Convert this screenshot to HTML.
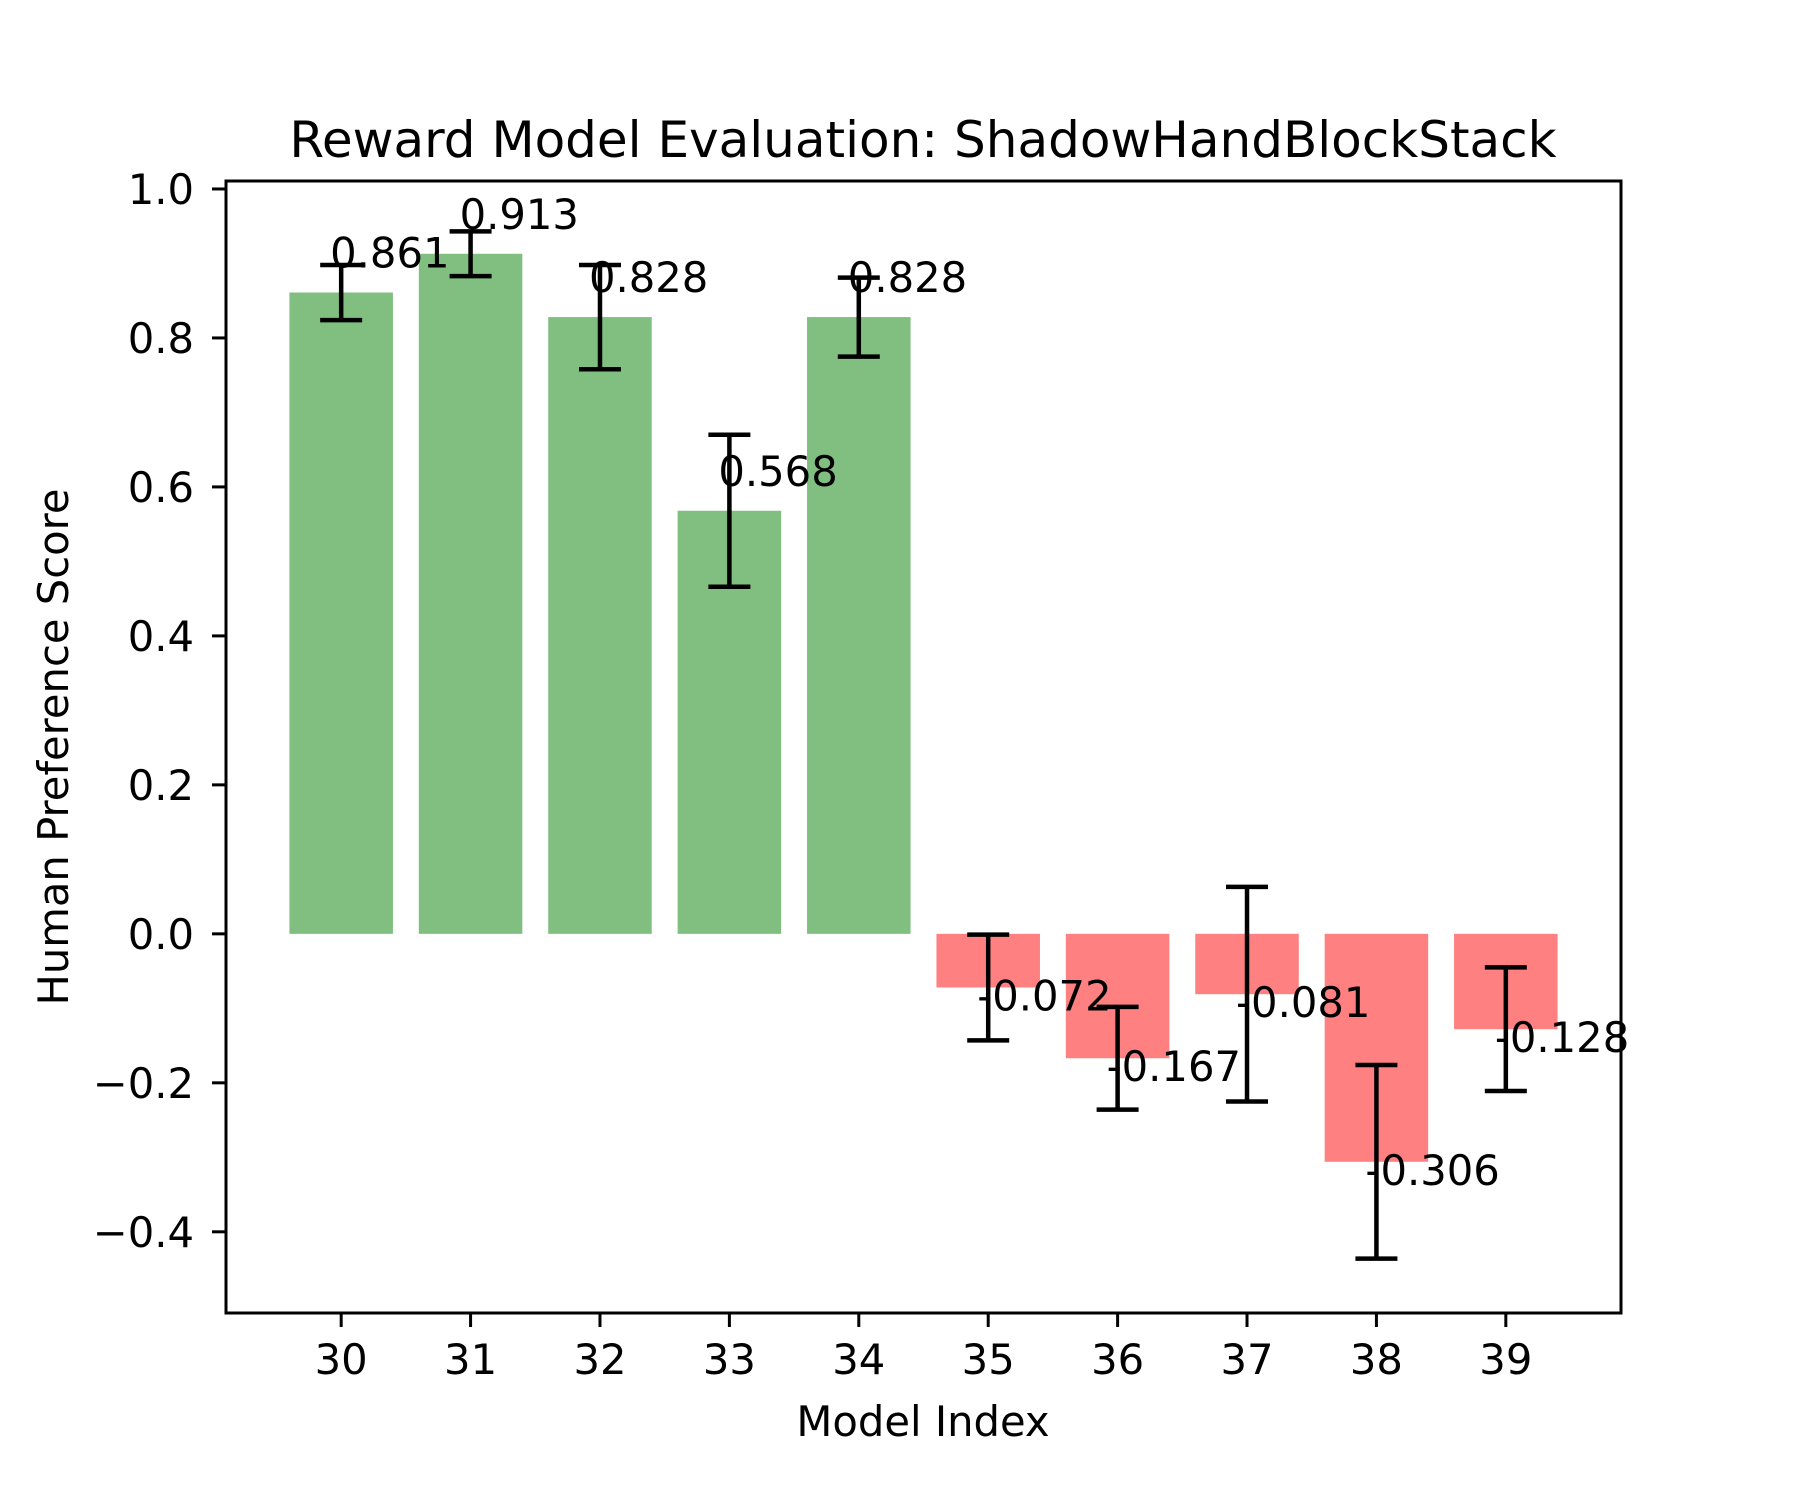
<!DOCTYPE html>
<html><head><meta charset="utf-8"><style>
body{margin:0;background:#fff}
svg{display:block}
text{font-family:"DejaVu Sans","Liberation Sans",sans-serif;fill:#000}
</style></head><body>
<svg id="chart" width="1800" height="1500" viewBox="0 0 1800 1500" xmlns="http://www.w3.org/2000/svg">
<rect width="1800" height="1500" fill="#fff"/>
<text x="923" y="157" font-size="50" text-anchor="middle">Reward Model Evaluation: ShadowHandBlockStack</text>
<text x="923" y="1436" font-size="41.7" text-anchor="middle">Model Index</text>
<text x="0" y="0" font-size="41.7" text-anchor="middle" transform="translate(68,747) rotate(-90)">Human Preference Score</text>
<g id="plot"></g>
</svg>
<script>
const categories = [30,31,32,33,34,35,36,37,38,39];
const scores = [0.861,0.913,0.828,0.568,0.828,-0.072,-0.167,-0.081,-0.306,-0.128];
const errors = [0.037,0.030,0.070,0.102,0.053,0.071,0.069,0.144,0.130,0.083];
const yTicks = [-0.4,-0.2,0.0,0.2,0.4,0.6,0.8,1.0];
const yTickLabels = ["\u22120.4","\u22120.2","0.0","0.2","0.4","0.6","0.8","1.0"];

const L=226,R=1621,T=181,B=1313;
const xMin=29.11,xMax=39.89,yMin=-0.509,yMax=1.0107;
function xs(v){return L+(v-xMin)/(xMax-xMin)*(R-L);}
function ys(v){return T+(yMax-v)/(yMax-yMin)*(B-T);}
const NS="http://www.w3.org/2000/svg";
const g=document.getElementById('plot');
function mk(tag,attrs){const e=document.createElementNS(NS,tag);for(const k in attrs)e.setAttribute(k,attrs[k]);g.appendChild(e);return e;}

categories.forEach((c,i)=>{
  const v=scores[i],x0=xs(c-0.4),x1=xs(c+0.4),y0=ys(0),yv=ys(v);
  const bar=mk('rect',{x:x0,y:Math.min(y0,yv),width:x1-x0,height:Math.abs(yv-y0),fill:v>=0?'#80bf80':'#ff8080'});
  
  
});
categories.forEach((c,i)=>{
  const v=scores[i],e=errors[i],cx=xs(c);
  const eg=mk('g',{stroke:'#000','stroke-width':4.5});
  
  
  const a=ys(v+e),b=ys(v-e);
  [[cx,a,cx,b],[cx-21,a,cx+21,a],[cx-21,b,cx+21,b]].forEach(p=>{
    const l=document.createElementNS(NS,'line');
    l.setAttribute('x1',p[0]);l.setAttribute('y1',p[1]);l.setAttribute('x2',p[2]);l.setAttribute('y2',p[3]);
    eg.appendChild(l);
  });
});
categories.forEach((c,i)=>{
  const v=scores[i];
  const t=mk('text',{x:xs(c)-11,y:v>=0?ys(v)-25:ys(v)+23,'font-size':41.7});
  t.textContent=v>=0?v.toFixed(3):'-'+Math.abs(v).toFixed(3);
  
  
});
const fr=mk('rect',{x:L,y:T,width:R-L,height:B-T,fill:'none',stroke:'#000','stroke-width':3});


categories.forEach(c=>{
  const x=xs(c);
  const tk=mk('line',{x1:x,y1:B,x2:x,y2:B+14,stroke:'#000','stroke-width':3});
  
  
  const tl=mk('text',{x:x,y:1374,'font-size':41.7,'text-anchor':'middle'});
  tl.textContent=String(c);
  
  
});
yTicks.forEach((v,i)=>{
  const y=ys(v);
  const tk=mk('line',{x1:L-14,y1:y,x2:L,y2:y,stroke:'#000','stroke-width':3});
  
  
  const tl=mk('text',{x:194,y:y+15,'font-size':41.7,'text-anchor':'end'});
  tl.textContent=yTickLabels[i];
  
  
});
</script>
</body></html>
